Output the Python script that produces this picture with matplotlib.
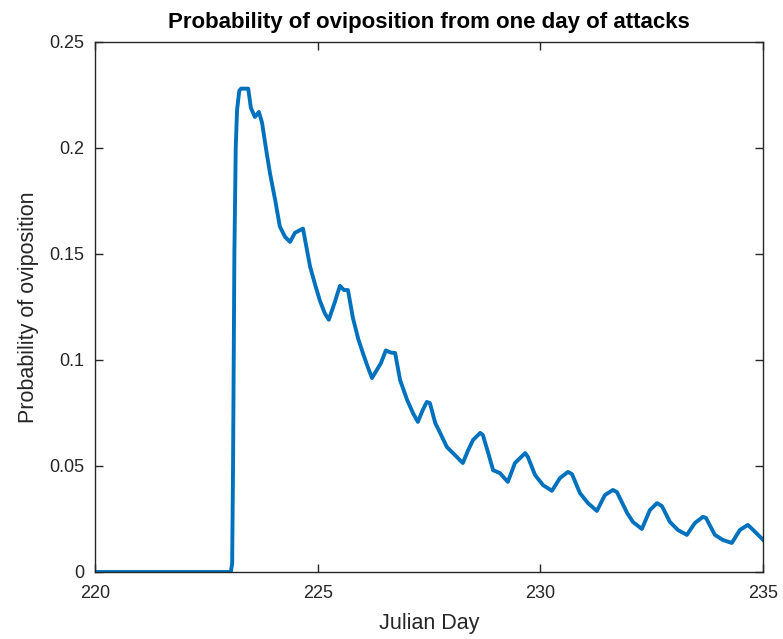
import matplotlib
matplotlib.use("Agg")
import matplotlib.pyplot as plt

# Julian day and probability of oviposition
days = [220.0, 223.05, 223.08, 223.10, 223.13, 223.16, 223.19, 223.24, 223.28, 223.44,
        223.50, 223.59, 223.68, 223.75, 223.86, 223.93, 224.05, 224.15, 224.27, 224.38,
        224.49, 224.67, 224.75, 224.83, 224.95, 225.05, 225.16, 225.25, 225.38, 225.50,
        225.59, 225.68, 225.79, 225.91, 226.02, 226.12, 226.22, 226.42, 226.53, 226.64,
        226.74, 226.85, 227.01, 227.14, 227.25, 227.36, 227.45, 227.52, 227.64, 227.75,
        227.90, 228.08, 228.26, 228.38, 228.49, 228.65, 228.71, 228.83, 228.94, 229.09,
        229.27, 229.43, 229.66, 229.72, 229.88, 230.06, 230.26, 230.44, 230.62, 230.71,
        230.89, 231.07, 231.27, 231.45, 231.63, 231.72, 231.95, 232.08, 232.28, 232.46,
        232.62, 232.73, 232.91, 233.09, 233.29, 233.47, 233.65, 233.72, 233.92, 234.10,
        234.30, 234.48, 234.66, 234.78, 235.0]
prob = [0.0, 0.0, 0.004, 0.05, 0.15, 0.200, 0.218, 0.227, 0.228, 0.228,
        0.219, 0.2146, 0.217, 0.212, 0.197, 0.188, 0.175, 0.163, 0.158, 0.1557,
        0.160, 0.162, 0.153, 0.144, 0.135, 0.128, 0.122, 0.119, 0.127, 0.135,
        0.133, 0.133, 0.120, 0.110, 0.103, 0.097, 0.0915, 0.0985, 0.1045, 0.1035,
        0.1033, 0.0906, 0.0811, 0.075, 0.0708, 0.0764, 0.0802, 0.0797, 0.0703, 0.0656,
        0.059, 0.0552, 0.0514, 0.0575, 0.0623, 0.0656, 0.0646, 0.0561, 0.048, 0.0467,
        0.0425, 0.0514, 0.0561, 0.0543, 0.0458, 0.041, 0.0383, 0.0443, 0.0472, 0.0462,
        0.0372, 0.0325, 0.0288, 0.0363, 0.0387, 0.0377, 0.0278, 0.0236, 0.0203, 0.0292,
        0.0325, 0.0311, 0.0236, 0.0198, 0.0175, 0.0231, 0.026, 0.0255, 0.0175, 0.0151,
        0.0137, 0.0198, 0.0222, 0.0198, 0.0152]

x_ticks = [220, 225, 230, 235]
y_ticks = [0, 0.05, 0.1, 0.15, 0.2, 0.25]
y_tick_labels = ["0", "0.05", "0.1", "0.15", "0.2", "0.25"]

plt.rcParams['font.family'] = ['Liberation Sans', 'DejaVu Sans']
axcol = '#262626'

fig = plt.figure(figsize=(7.83, 6.39), dpi=100)
ax = fig.add_axes([95/783, (639-572)/639, 668/783, 530/639])
ax.plot(days, prob, color='#0072BD', lw=2.8, solid_joinstyle='round')
ax.set_xlim(220, 235)
ax.set_ylim(0, 0.25)
ax.set_xticks(x_ticks)
ax.set_xticklabels([str(t) for t in x_ticks])
ax.set_yticks(y_ticks)
ax.set_yticklabels(y_tick_labels)
ax.tick_params(direction='in', top=True, right=True, length=6, width=1,
               colors=axcol, labelsize=13, labelcolor=axcol)
ax.tick_params(axis='x', pad=9)
ax.tick_params(axis='y', pad=8)
for s in ax.spines.values():
    s.set_color(axcol)
    s.set_linewidth(1)
ax.set_xlabel('Julian Day', fontsize=15.5, color=axcol, labelpad=8)
ax.set_ylabel('Probability of oviposition', fontsize=15.5, color=axcol, labelpad=7)
ax.set_title('Probability of oviposition from one day of attacks', fontsize=16,
             fontweight='bold', color='black', pad=10)
fig.savefig('out.png', dpi=100)
